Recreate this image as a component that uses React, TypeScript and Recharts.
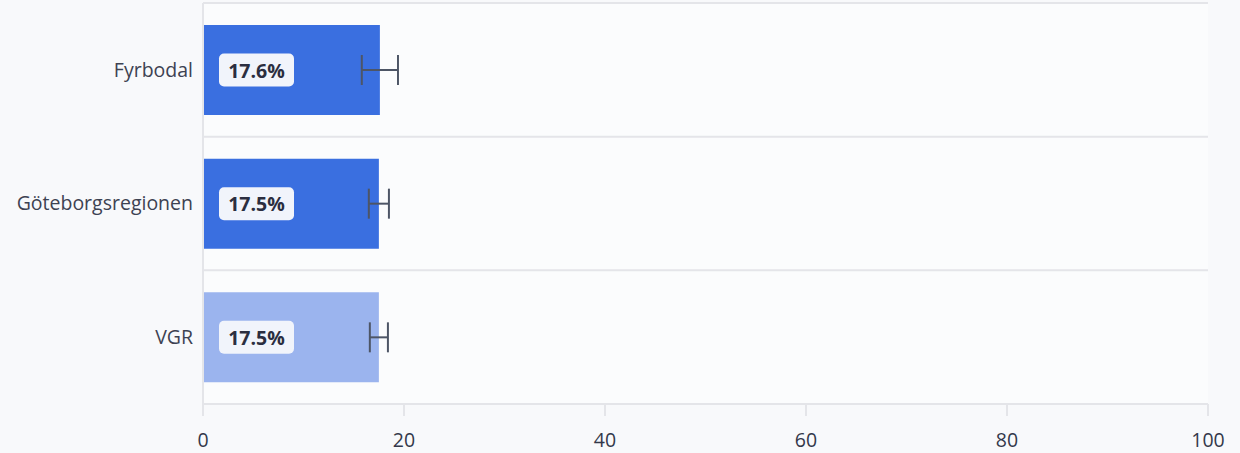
import React from 'react';
import { BarChart, Bar, XAxis, YAxis, CartesianGrid, ErrorBar, Cell, LabelList } from 'recharts';

const categories = ['Fyrbodal', 'Göteborgsregionen', 'VGR'];
const values = [17.6, 17.5, 17.5];
const errors = [1.8, 1.0, 0.9];
const colors = ['#3a6fe0', '#3a6fe0', '#9bb4ee'];
const xTicks = [0, 20, 40, 60, 80, 100];

const data = categories.map((name, i) => ({ name, value: values[i], err: errors[i] }));

const W = 1240;
const H = 453;
const M = { top: 3, right: 32, left: 0, bottom: 0 };
const XH = 49;
const FONT = "'Open Sans', sans-serif";

const renderLabel = (props: any) => {
  const { x, y, height, value } = props;
  const bx = Number(x) + 16;
  const cy = Number(y) + Number(height) / 2;
  return (
    <g>
      <rect x={bx} y={cy - 16.5} width={75} height={33} rx={5} ry={5} fill="#f1f4fb" />
      <text
        x={bx + 37.5}
        y={cy}
        textAnchor="middle"
        dominantBaseline="central"
        fontFamily={FONT}
        fontWeight={700}
        fontSize={19.5}
        fill="#2b2e40"
      >
        {Number(value).toFixed(1)}%
      </text>
    </g>
  );
};

export default function App() {
  const hGen = (p: any) => {
    const off = p && p.offset;
    const top = off ? off.top : M.top;
    const h = off ? off.height : H - M.top - M.bottom - XH;
    return [0, 1, 2, 3].map((i) => top + (i * h) / categories.length);
  };
  return (
    <div style={{ position: 'absolute', left: 0, top: 0, width: W, height: H, background: '#f8f9fb' }}>
      <BarChart width={W} height={H} data={data} layout="vertical" margin={M}>
        <CartesianGrid
          vertical={false}
          horizontalCoordinatesGenerator={hGen}
          stroke="#e4e5e9"
          strokeWidth={2}
          fill="#fbfcfd"
        />
        <XAxis
          type="number"
          domain={[0, 100]}
          ticks={xTicks}
          height={XH}
          axisLine={{ stroke: '#e4e5e9', strokeWidth: 2 }}
          tickLine={{ stroke: '#e4e5e9', strokeWidth: 2 }}
          tickSize={12}
          tickMargin={17}
          tick={{ fill: '#33384a', fontSize: 19.5, fontFamily: FONT }}
        />
        <YAxis
          type="category"
          dataKey="name"
          width={203}
          axisLine={{ stroke: '#e4e5e9', strokeWidth: 2 }}
          tickLine={false}
          tickMargin={4}
          tick={{ fill: '#3d4252', fontSize: 19.5, fontFamily: FONT }}
        />
        <Bar dataKey="value" barSize={90} isAnimationActive={false}>
          {data.map((d, i) => (
            <Cell key={d.name} fill={colors[i]} />
          ))}
          <LabelList dataKey="value" content={renderLabel} />
          <ErrorBar dataKey="err" direction="x" width={15} stroke="#4d5566" strokeWidth={2} />
        </Bar>
      </BarChart>
    </div>
  );
}
